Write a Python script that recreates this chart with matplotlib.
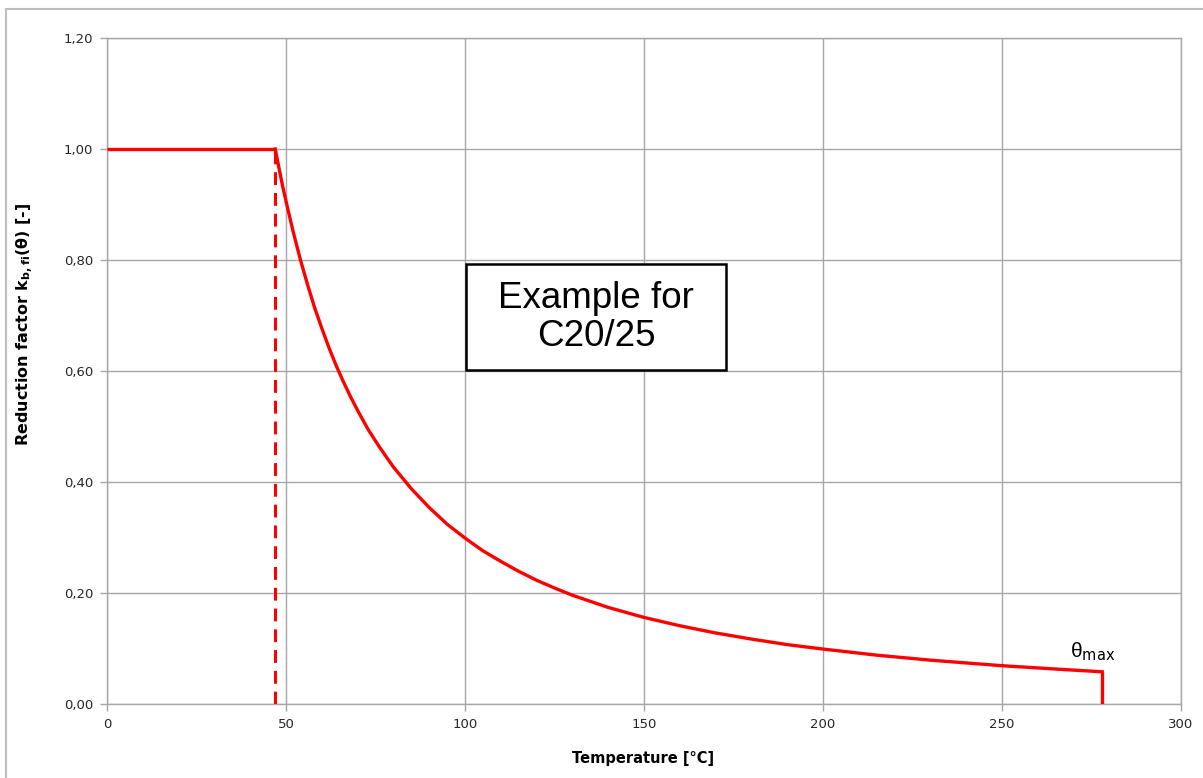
import matplotlib
matplotlib.use("Agg")
import matplotlib.pyplot as plt
from matplotlib.patches import Rectangle

temp_flat = [0, 47]
k_flat = [1.0, 1.0]
temp = [47, 48, 49, 50, 52, 54, 56, 58, 60, 62, 64, 66, 68, 70, 73, 76, 80,
        85, 90, 95, 100, 105, 110, 115, 120, 125, 130, 140, 150, 160, 170,
        180, 190, 200, 215, 230, 250, 265, 278]
k = [1.0, 0.967, 0.935, 0.906, 0.851, 0.801, 0.756, 0.714, 0.677, 0.642,
     0.610, 0.581, 0.554, 0.529, 0.494, 0.464, 0.427, 0.388, 0.354, 0.324,
     0.299, 0.276, 0.257, 0.239, 0.223, 0.209, 0.196, 0.174, 0.156, 0.141,
     0.128, 0.117, 0.107, 0.099, 0.088, 0.079, 0.069, 0.063, 0.058]
theta_ref = 47
theta_max = 278
xticks = [0, 50, 100, 150, 200, 250, 300]
yticks = [0.0, 0.2, 0.4, 0.6, 0.8, 1.0, 1.2]
ytick_labels = ["0,00", "0,20", "0,40", "0,60", "0,80", "1,00", "1,20"]

red = "#ff0000"
grid_col = "#a6a6a6"

fig = plt.figure(figsize=(12.03, 7.78), dpi=100)
# chart area border
fig.patches.append(Rectangle((6 / 1203, -0.1), 1.2, (778 - 9) / 778 + 0.1,
                             transform=fig.transFigure, fill=False,
                             edgecolor="#bfbfbf", linewidth=1.5))

ax = fig.add_axes([107 / 1203, 74 / 778, 1074 / 1203, 666 / 778])
ax.set_xlim(0, 300)
ax.set_ylim(0, 1.2)

ax.plot(temp_flat, k_flat, color=red, lw=2.4, solid_capstyle="butt", zorder=3)
ax.plot(temp, k, color=red, lw=2.4, zorder=3)
ax.plot([theta_ref, theta_ref], [0, 1.0], color=red, lw=2.2,
        dashes=(4.2, 2.6), zorder=3)
ax.plot([theta_max, theta_max], [0, k[-1]], color=red, lw=2.4,
        solid_capstyle="butt", zorder=3)

ax.set_xticks(xticks)
ax.set_yticks(yticks)
ax.set_yticklabels(ytick_labels)
ax.grid(True, color=grid_col, lw=1.0)
ax.set_axisbelow(True)
for s in ax.spines.values():
    s.set_color(grid_col)
    s.set_linewidth(1.0)
ax.tick_params(direction="out", length=5, width=1.0, color=grid_col,
               labelsize=9.5, labelcolor="#262626", pad=5)

ax.set_xlabel("Temperature [°C]", fontsize=10.5, fontweight="bold")
ax.xaxis.set_label_coords(0.499, -0.07)
ax.set_ylabel(r"Reduction factor k$_{\mathbf{b,fi}}$(θ) [-]",
              fontsize=11.5, fontweight="bold")
ax.yaxis.set_label_coords(-0.066, 0.57)

# annotation box
ax.add_patch(Rectangle((100.3, 0.602), 72.7, 0.191, fc="white", ec="black",
                       lw=1.8, zorder=4))
ax.text(136.6, 0.697, "Example for\nC20/25", fontsize=26.5,
        family="Liberation Sans", ha="center", va="center",
        linespacing=1.1, zorder=5)

ax.text(269, 0.095, r"θ$_{\mathrm{max}}$", fontsize=15, family="Liberation Sans",
        ha="left", va="center")

fig.savefig("out.png", dpi=100)
